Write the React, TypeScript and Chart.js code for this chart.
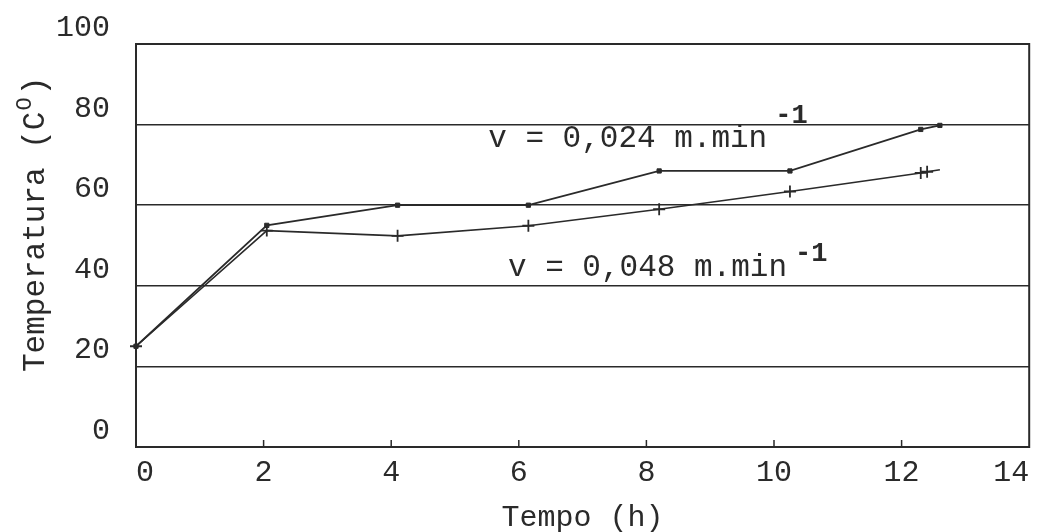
import React, { useEffect, useRef } from "react";
import { Chart, registerables } from "chart.js";

Chart.register(...registerables);

// Tempo (h) and Temperatura (°C)
const timeA = [0, 2.05, 4.1, 6.15, 8.2, 10.25, 12.3, 12.6];
const tempA = [25, 55, 60, 60, 68.5, 68.5, 78.8, 79.8];
const timeB = [0, 2.05, 4.1, 6.15, 8.2, 10.25, 12.3, 12.4, 12.6];
const tempB = [25, 53.7, 52.4, 54.9, 59, 63.4, 68, 68.3, 68.8];
const markerB = [6, 6, 6, 6, 6, 6, 6, 6, 0];

const labelA = "v = 0,024 m.min";
const labelB = "v = 0,048 m.min";
const supText = "-1";
const xTitle = "Tempo (h)";
const yTitleMain = "Temperatura (C";
const yTitleSup = "O";
const yTitleEnd = ")";

const FONT = "'Liberation Mono', 'DejaVu Sans Mono', monospace";
const INK = "#2a2a2a";

const decorPlugin = {
  id: "decor",
  afterDraw(chart: any) {
    const { ctx, chartArea } = chart;
    const xs = chart.scales.x;
    const ys = chart.scales.y;
    ctx.save();
    // frame
    ctx.strokeStyle = INK;
    ctx.lineWidth = 2;
    ctx.strokeRect(chartArea.left, chartArea.top, chartArea.right - chartArea.left, chartArea.bottom - chartArea.top);
    // inward x ticks
    ctx.lineWidth = 1.5;
    for (let v = 2; v < 14; v += 2) {
      const px = xs.getPixelForValue(v);
      ctx.beginPath();
      ctx.moveTo(px, chartArea.bottom);
      ctx.lineTo(px, chartArea.bottom - 7);
      ctx.stroke();
    }
    // annotations
    ctx.fillStyle = INK;
    ctx.textBaseline = "alphabetic";
    ctx.textAlign = "left";
    const drawLabel = (txt: string, xv: number, yv: number, supDy: number) => {
      ctx.font = `31px ${FONT}`;
      const px = xs.getPixelForValue(xv);
      const py = ys.getPixelForValue(yv);
      ctx.fillText(txt, px, py);
      const w = ctx.measureText(txt).width;
      ctx.font = `bold 27px ${FONT}`;
      ctx.fillText(supText, px + w + 8, py - supDy);
    };
    drawLabel(labelA, 5.52, 74.4, 24);
    drawLabel(labelB, 5.83, 42.4, 15);
    // y title with superscript O
    ctx.save();
    ctx.translate(36, 372);
    ctx.rotate(-Math.PI / 2);
    ctx.textBaseline = "middle";
    ctx.font = `31px ${FONT}`;
    ctx.fillText(yTitleMain, 0, 0);
    const w1 = ctx.measureText(yTitleMain).width;
    ctx.font = `22px ${FONT}`;
    ctx.fillText(yTitleSup, w1 + 1, -11);
    const w2 = ctx.measureText(yTitleSup).width;
    ctx.font = `31px ${FONT}`;
    ctx.fillText(yTitleEnd, w1 + w2 + 3, 0);
    ctx.restore();
    ctx.restore();
  },
};

export default function App() {
  const ref = useRef<HTMLCanvasElement>(null);
  useEffect(() => {
    document.body.style.margin = "0";
    const chart = new Chart(ref.current as HTMLCanvasElement, {
      type: "line",
      data: {
        datasets: [
          {
            label: labelA,
            data: timeA.map((t, i) => ({ x: t, y: tempA[i] })),
            borderColor: INK,
            backgroundColor: INK,
            borderWidth: 1.8,
            pointStyle: "rect",
            pointRadius: 3,
            pointBorderWidth: 1,
            tension: 0,
            clip: false as any,
          },
          {
            label: labelB,
            data: timeB.map((t, i) => ({ x: t, y: tempB[i] })),
            borderColor: INK,
            backgroundColor: INK,
            borderWidth: 1.6,
            pointStyle: "cross",
            pointRadius: markerB,
            pointBorderWidth: 1.8,
            tension: 0,
            clip: false as any,
          },
        ],
      },
      options: {
        animation: false,
        responsive: false,
        events: [],
        layout: { padding: { top: 37, right: 4, bottom: 0, left: 0 } },
        plugins: { legend: { display: false }, tooltip: { enabled: false } },
        scales: {
          x: {
            type: "linear",
            min: 0,
            max: 14,
            afterFit: (s: any) => {
              s.height = 85;
              s.paddingLeft = 0;
              s.paddingRight = 0;
            },
            ticks: { stepSize: 2, font: { family: FONT, size: 30 }, color: INK, padding: 8, maxRotation: 0, align: "inner" },
            grid: { display: false, drawTicks: false },
            border: { display: true, color: INK, width: 2 },
            title: { display: true, text: xTitle, font: { family: FONT, size: 30 }, color: INK, padding: { top: 0, bottom: -4 } },
          },
          y: {
            min: 0,
            max: 100,
            afterFit: (s: any) => {
              s.width = 136;
            },
            ticks: { stepSize: 20, font: { family: FONT, size: 30 }, color: INK, padding: 26, labelOffset: -16 },
            grid: {
              drawTicks: false,
              color: (c: any) => (c.tick && (c.tick.value === 0 || c.tick.value === 100) ? "rgba(0,0,0,0)" : INK),
              lineWidth: 1.6,
            },
            border: { display: true, color: INK, width: 2 },
          },
        },
      },
      plugins: [decorPlugin],
    });
    return () => chart.destroy();
  }, []);
  return (
    <div style={{ width: 1037, height: 532, background: "#fff" }}>
      <canvas ref={ref} width={1037} height={532} />
    </div>
  );
}
